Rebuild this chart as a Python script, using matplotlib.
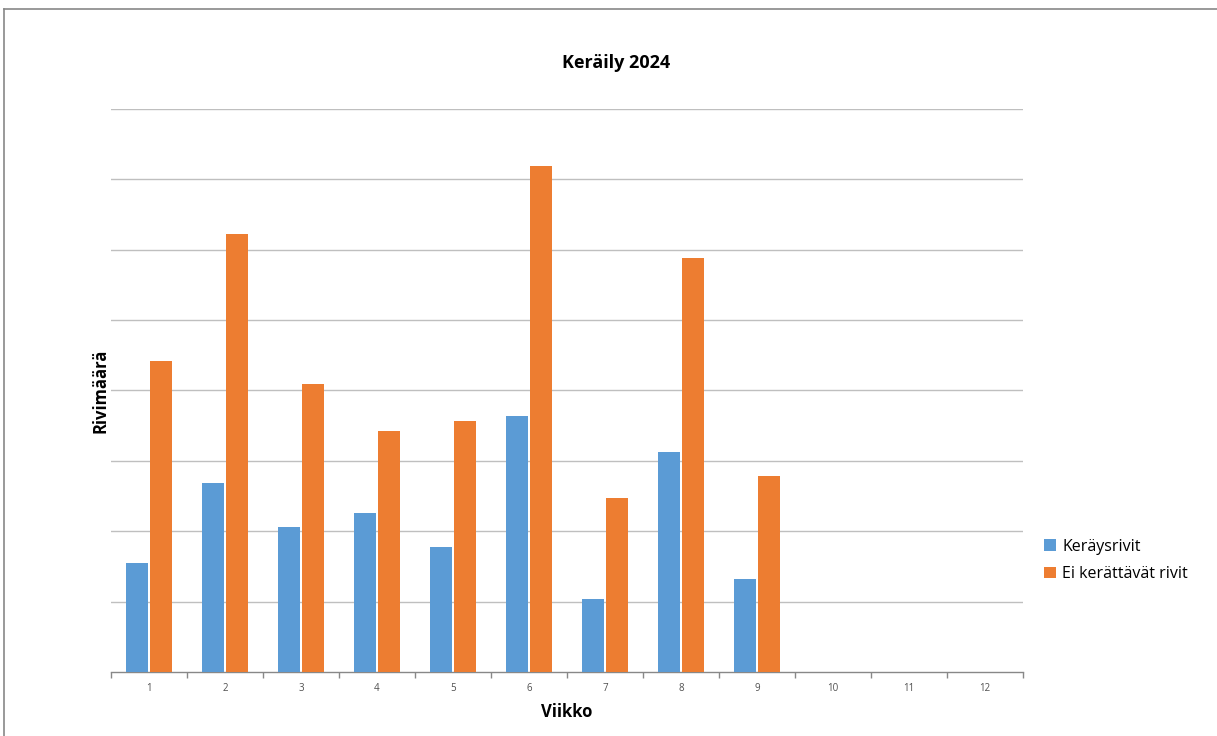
import numpy as np
import matplotlib.pyplot as plt
from matplotlib.lines import Line2D

plt.rcParams['font.family'] = ['Open Sans', 'DejaVu Sans']

# Weekly line counts (hundreds of rows)
weeks = [str(w) for w in range(1, 13)]
keraysrivit = [1.55, 2.68, 2.06, 2.26, 1.78, 3.64, 1.04, 3.13, 1.32, 0, 0, 0]
ei_kerattavat = [4.42, 6.22, 4.09, 3.42, 3.57, 7.19, 2.47, 5.88, 2.78, 0, 0, 0]

blue = '#5B9BD5'
orange = '#ED7D31'

fig = plt.figure(figsize=(12.17, 7.36), dpi=100)
ax = fig.add_axes([0.0912, 0.087, 0.7494, 0.765])

x = np.arange(len(weeks))
w = 0.29
ax.bar(x - 0.158, keraysrivit, w, color=blue, label='Keräysrivit', zorder=3)
ax.bar(x + 0.158, ei_kerattavat, w, color=orange, label='Ei kerättävät rivit', zorder=3)

ax.set_xlim(-0.5, len(weeks) - 0.5)
ax.set_ylim(0, 8)
ax.set_yticks(np.arange(1, 9))
ax.yaxis.grid(True, color='#BFBFBF', linewidth=1.0, zorder=0)
ax.tick_params(axis='y', length=0, labelleft=False)

ax.set_xticks(x)
ax.set_xticklabels(weeks, fontsize=7, color='#505050')
ax.set_xticks(np.arange(-0.5, len(weeks)), minor=True)
ax.tick_params(axis='x', which='major', length=0, pad=8)
ax.tick_params(axis='x', which='minor', length=4, color='#888888', width=1)

for s in ['top', 'right', 'left']:
    ax.spines[s].set_visible(False)
ax.spines['bottom'].set_color('#888888')
ax.spines['bottom'].set_linewidth(1)

fig.text(0.506, 0.915, 'Keräily 2024', ha='center', va='center',
         fontsize=13, fontweight='bold')
fig.text(0.0825, 0.469, 'Rivimäärä', ha='center', va='center',
         rotation=90, fontsize=12, fontweight='bold')
fig.text(0.466, 0.032, 'Viikko', ha='center', va='center',
         fontsize=12, fontweight='bold')

fig.legend(loc='upper left', bbox_to_anchor=(0.853, 0.277), frameon=False,
           fontsize=11.5, handlelength=0.7, handleheight=0.7, handletextpad=0.4,
           labelspacing=0.75, borderaxespad=0)

# thin frame along the top and left edges
fig.add_artist(Line2D([0.0035, 0.0035], [0, 0.988], transform=fig.transFigure,
                      color='#888888', linewidth=1.2))
fig.add_artist(Line2D([0.0035, 1], [0.988, 0.988], transform=fig.transFigure,
                      color='#888888', linewidth=1.2))

fig.savefig('out.png', dpi=100, facecolor='white')
